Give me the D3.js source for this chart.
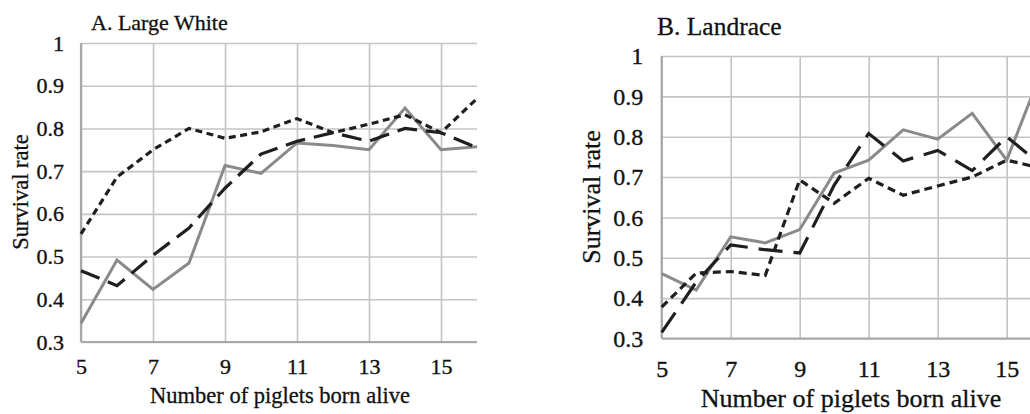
<!DOCTYPE html>
<html>
<head>
<meta charset="utf-8">
<script src="https://cdn.jsdelivr.net/npm/d3@7"></script>
<style>
  body { margin: 0; background: #fff; }
  svg { display: block; font-family: "Liberation Serif", "Times New Roman", serif; }
</style>
</head>
<body>
<svg id="chart" width="1030" height="414"></svg>
<script>
// number of piglets born alive
const bornAlive = [5, 6, 7, 8, 9, 10, 11, 12, 13, 14, 15, 16];
const xTicks = [5, 7, 9, 11, 13, 15];
const yTicks = [0.3, 0.4, 0.5, 0.6, 0.7, 0.8, 0.9, 1];

// A. Large White
const lwShortDash = [0.553, 0.686, 0.75, 0.80, 0.777, 0.792, 0.823, 0.79, 0.81, 0.832, 0.79, 0.87];
const lwLongDash  = [0.467, 0.432, 0.503, 0.567, 0.66, 0.74, 0.77, 0.79, 0.77, 0.80, 0.79, 0.755];
const lwSolid     = [0.344, 0.492, 0.423, 0.485, 0.713, 0.695, 0.766, 0.76, 0.75, 0.848, 0.75, 0.757];

// B. Landrace
const ldShortDash = [0.378, 0.462, 0.466, 0.456, 0.693, 0.635, 0.697, 0.655, 0.678, 0.70, 0.742, 0.722];
const ldLongDash  = [0.315, 0.44, 0.532, 0.52, 0.512, 0.68, 0.808, 0.74, 0.766, 0.716, 0.80, 0.73];
const ldSolid     = [0.461, 0.42, 0.552, 0.537, 0.57, 0.71, 0.742, 0.817, 0.794, 0.858, 0.742, 0.96];

const svg = d3.select("#chart");

function drawPanel(p) {
    const g = svg.append("g");
    const x = d3.scaleLinear().domain([5, 16]).range([p.left, p.right]);
    const y = d3.scaleLinear().domain([0.3, 1]).range([p.bottom, p.top]);

    // horizontal grid + y labels
    const yAxis = g.append("g")
        .attr("transform", `translate(${p.left},0)`)
        .call(d3.axisLeft(y)
            .tickValues(yTicks)
            .tickSize(-(p.right - p.left))
            .tickPadding(p.yPad)
            .tickFormat(d => d === 1 ? "1" : d.toFixed(1)));
    yAxis.select(".domain").remove();

    // vertical grid + x labels
    const xAxis = g.append("g")
        .attr("transform", `translate(0,${p.bottom})`)
        .call(d3.axisBottom(x)
            .tickValues(xTicks)
            .tickSize(-(p.bottom - p.top))
            .tickPadding(p.xPad)
            .tickFormat(d3.format("d")));
    xAxis.select(".domain").remove();

    g.selectAll(".tick line")
        .attr("stroke", "#c4c4c4")
        .attr("stroke-width", 1.6);
    g.selectAll(".tick text")
        .attr("fill", "#111")
        .attr("stroke", "#111")
        .attr("stroke-width", 0.35)
        .attr("font-family", "Liberation Serif, serif")
        .attr("font-size", p.tickFont);

    // axis lines
    g.append("line")
        .attr("x1", p.left).attr("x2", p.left)
        .attr("y1", p.top).attr("y2", p.bottom)
        .attr("stroke", "#a8a8a8").attr("stroke-width", 2.2);
    g.append("line")
        .attr("x1", p.left).attr("x2", p.right)
        .attr("y1", p.bottom).attr("y2", p.bottom)
        .attr("stroke", "#a8a8a8").attr("stroke-width", 2.2);

    const line = d3.line()
        .x((d, i) => x(bornAlive[i]))
        .y(d => y(d));

    g.append("path")
        .datum(p.solid)
        .attr("fill", "none")
        .attr("stroke", "#8a8a8a")
        .attr("stroke-width", 3)
        .attr("d", line);

    g.append("path")
        .datum(p.longDash)
        .attr("fill", "none")
        .attr("stroke", "#1f1f1f")
        .attr("stroke-width", 3.2)
        .attr("stroke-dasharray", p.longArray)
        .attr("d", line);

    g.append("path")
        .datum(p.shortDash)
        .attr("fill", "none")
        .attr("stroke", "#1f1f1f")
        .attr("stroke-width", 3.2)
        .attr("stroke-dasharray", p.shortArray)
        .attr("d", line);

    // titles
    const labels = g.append("g")
        .attr("fill", "#111")
        .attr("stroke", "#111")
        .attr("stroke-width", 0.3);

    labels.append("text")
        .attr("x", p.titleX).attr("y", p.titleY)
        .attr("font-size", p.titleFont)
        .text(p.title);

    labels.append("text")
        .attr("x", p.xTitleX).attr("y", p.xTitleY)
        .attr("text-anchor", "middle")
        .attr("font-size", p.axisFont)
        .text("Number of piglets born alive");

    labels.append("text")
        .attr("transform", `translate(${p.yTitleX},${p.yTitleY}) rotate(-90)`)
        .attr("text-anchor", "middle")
        .attr("font-size", p.axisFont)
        .text("Survival rate");
}

drawPanel({
    left: 81, right: 477, top: 43, bottom: 342,
    yPad: 17, xPad: 16, tickFont: 22, axisFont: 22.5, titleFont: 22,
    title: "A. Large White", titleX: 91, titleY: 30,
    xTitleX: 280, xTitleY: 403, yTitleX: 28, yTitleY: 192,
    shortDash: lwShortDash, longDash: lwLongDash, solid: lwSolid,
    shortArray: "7,4.5", longArray: "20,9"
});

drawPanel({
    left: 661.7, right: 1041.2, top: 56, bottom: 338.5,
    yPad: 18.5, xPad: 21, tickFont: 24, axisFont: 26, titleFont: 25.5,
    title: "B. Landrace", titleX: 657, titleY: 35,
    xTitleX: 851, xTitleY: 407, yTitleX: 600, yTitleY: 197,
    shortDash: ldShortDash, longDash: ldLongDash, solid: ldSolid,
    shortArray: "8,5", longArray: "24,11"
});
</script>
</body>
</html>
